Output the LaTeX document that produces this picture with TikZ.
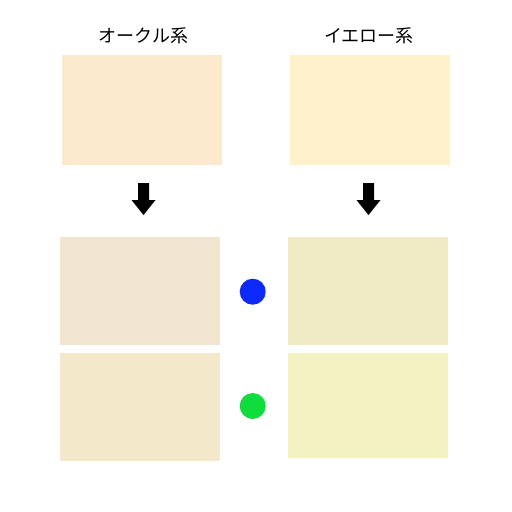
\documentclass[tikz,border=0pt]{standalone}
\usepackage{fontspec}
\newfontfamily\jpfont{Noto Sans CJK JP}
\usepackage{xcolor}

\definecolor{ochreTop}{HTML}{FBE9CE}
\definecolor{ochreMid}{HTML}{F2E5CF}
\definecolor{ochreLow}{HTML}{F3E8CA}
\definecolor{yellowTop}{HTML}{FFF1CC}
\definecolor{yellowMid}{HTML}{F0EBC4}
\definecolor{yellowLow}{HTML}{F4F1C2}
\definecolor{dotBlue}{HTML}{0B2AFB}
\definecolor{dotGreen}{HTML}{0EDD3C}

\begin{document}
\begin{tikzpicture}[x=1pt,y=-1pt]
\useasboundingbox (0,0) rectangle (512,512);

\node[font=\jpfont\fontsize{18pt}{20pt}\selectfont] (ochreLabel) at (143.5,36) {オークル系};
\node[font=\jpfont\fontsize{18pt}{20pt}\selectfont] (yellowLabel) at (369,36) {イエロー系};

\begin{scope}[every node/.style={rectangle,inner sep=0pt,minimum width=160pt}]
\node[fill=ochreTop,minimum height=110pt] (ochreA) at (142,110) {};
\node[fill=yellowTop,minimum height=110pt] (yellowA) at (370,110) {};
\node[fill=ochreMid,minimum height=108pt] (ochreB) at (140,291) {};
\node[fill=yellowMid,minimum height=108pt] (yellowB) at (368,291) {};
\node[fill=ochreLow,minimum height=108pt] (ochreC) at (140,407) {};
\node[fill=yellowLow,minimum height=105pt] (yellowC) at (368,405.5) {};
\end{scope}

\begin{scope}[every node/.style={circle,inner sep=0pt,minimum size=26pt}]
\node[fill=dotBlue] (blueDot) at (252.7,291.7) {};
\node[fill=dotGreen] (greenDot) at (252.7,406) {};
\end{scope}

\coordinate (ochreArrow) at (143.5,183);
\coordinate (yellowArrow) at (368.5,183);

\fill[black] (ochreArrow) ++(-5.5,0) -- ++(11,0) -- ++(0,17) -- ++(6.5,0)
  -- ++(-12,15) -- ++(-12,-15) -- ++(6.5,0) -- cycle;
\fill[black] (yellowArrow) ++(-5.5,0) -- ++(11,0) -- ++(0,17) -- ++(6.5,0)
  -- ++(-12,15) -- ++(-12,-15) -- ++(6.5,0) -- cycle;

\end{tikzpicture}
\end{document}
